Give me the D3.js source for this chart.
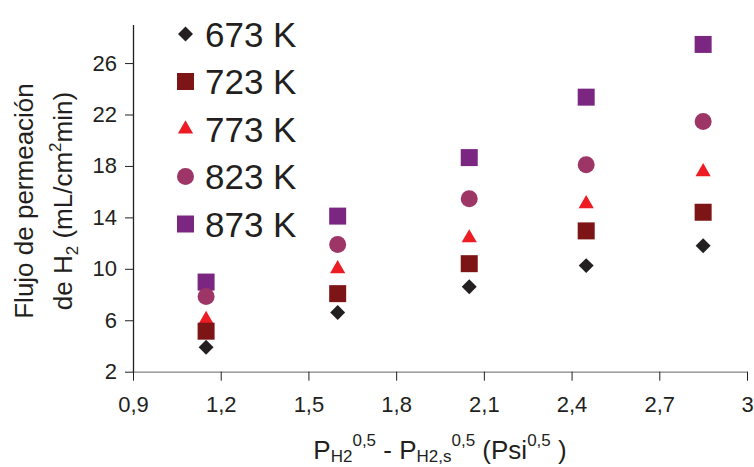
<!DOCTYPE html>
<html>
<head>
<meta charset="utf-8">
<script src="https://cdn.jsdelivr.net/npm/d3@7"></script>
<style>
  body { margin: 0; background: #fff; }
  text { font-family: "Liberation Sans", Arial, sans-serif; fill: #231f20; }
</style>
</head>
<body>
<svg class="scatter_svg" width="754" height="467"></svg>
<script>
// values
const xValues = [1.15, 1.6, 2.05, 2.45, 2.85]
const seriesNames = ["673 K", "723 K", "773 K", "823 K", "873 K"]
const k673 = [3.9, 6.6, 8.6, 10.25, 11.8]
const k723 = [5.15, 8.07, 10.4, 12.95, 14.4]
const k773 = [6.05, 10.0, 12.4, 15.05, 17.55]
const k823 = [7.85, 11.9, 15.45, 18.1, 21.45]
const k873 = [8.97, 14.1, 18.65, 23.35, 27.45]
const xTicks = [0.9, 1.2, 1.5, 1.8, 2.1, 2.4, 2.7, 3.0]
const yTicks = [2, 6, 10, 14, 18, 22, 26]

const seriesValues = [k673, k723, k773, k823, k873]
const colors = ["#231f20", "#7d1416", "#ed1c24", "#9d3567", "#7b2781"]

const svg = d3.select(".scatter_svg")

const x = d3.scaleLinear().domain([0.9, 3.0]).range([133, 747])
const y = d3.scaleLinear().domain([2, 29]).range([371.7, 24.5])

// symbols: diamond is a square turned 45 degrees
const shapes = [
    {type: d3.symbolSquare, size: 112, rotate: 45},
    {type: d3.symbolSquare, size: 289, rotate: 0},
    {type: d3.symbolTriangle, size: 100, rotate: 0},
    {type: d3.symbolCircle, size: 227, rotate: 0},
    {type: d3.symbolSquare, size: 289, rotate: 0}
]

// x axis
const xAxisCall = d3.axisBottom(x)
    .tickValues(xTicks)
    .tickSize(9)
    .tickSizeOuter(0)
    .tickPadding(16)
    .tickFormat(d => d === 3 ? "3" : d3.format(".1f")(d).replace(".", ","))

const xg = svg.append("g")
    .attr("transform", `translate(0, ${y(2)})`)
    .call(xAxisCall)
xg.select(".domain").attr("stroke", "#858585").attr("stroke-width", 1.3)
xg.selectAll(".tick line").attr("stroke", "#231f20")
xg.selectAll("text")
    .attr("font-size", "22px")
    .style("font-family", "'Liberation Sans', Arial, sans-serif")
    .attr("fill", "#231f20")

// y axis
const yAxisCall = d3.axisLeft(y)
    .tickValues(yTicks)
    .tickSize(8)
    .tickSizeOuter(0)
    .tickPadding(8)

const yg = svg.append("g")
    .attr("transform", `translate(${x(0.9)}, 0)`)
    .call(yAxisCall)
yg.select(".domain").attr("stroke", "#231f20").attr("stroke-width", 1.3)
yg.selectAll(".tick line").attr("stroke", "#231f20")
yg.selectAll("text")
    .attr("font-size", "22px")
    .style("font-family", "'Liberation Sans', Arial, sans-serif")
    .attr("fill", "#231f20")

// points, drawn last series first so the 673 K diamonds sit on top
for (let s = seriesValues.length - 1; s >= 0; s--) {
    const shape = shapes[s]
    svg.append("g")
        .selectAll("path")
        .data(seriesValues[s].map((v, i) => ({x: xValues[i], y: v})))
        .enter()
        .append("path")
        .attr("d", d3.symbol().type(shape.type).size(shape.size))
        .attr("transform", d => `translate(${x(d.x)}, ${y(d.y)}) rotate(${shape.rotate})`)
        .attr("fill", colors[s])
}

// legend
const legend = svg.append("g")
seriesNames.forEach((name, i) => {
    const cy = 34 + i * 47.5
    legend.append("path")
        .attr("d", d3.symbol().type(shapes[i].type).size(shapes[i].size))
        .attr("transform", `translate(185.5, ${cy}) rotate(${shapes[i].rotate})`)
        .attr("fill", colors[i])
    legend.append("text")
        .attr("x", 205)
        .attr("y", cy + 12.5)
        .attr("font-size", "35px")
        .text(name)
})

// y label, two lines
const yLabel = svg.append("text")
    .attr("transform", "translate(33, 201) rotate(-90)")
    .attr("text-anchor", "middle")
    .attr("font-size", "26px")
    .text("Flujo de permeación")

const yLabel2 = svg.append("text")
    .attr("transform", "translate(72, 201) rotate(-90)")
    .attr("text-anchor", "middle")
    .attr("font-size", "26px")
yLabel2.append("tspan").text("de H")
yLabel2.append("tspan").attr("font-size", "17px").attr("dy", 6).text("2")
yLabel2.append("tspan").attr("dy", -6).text(" (mL/cm")
yLabel2.append("tspan").attr("font-size", "17px").attr("dy", -11).text("2")
yLabel2.append("tspan").attr("dy", 11).text("min)")

// x label
const xLabel = svg.append("text")
    .attr("x", 440)
    .attr("y", 459)
    .attr("text-anchor", "middle")
    .attr("font-size", "26px")
xLabel.append("tspan").text("P")
xLabel.append("tspan").attr("font-size", "17px").attr("dy", 3).text("H2")
xLabel.append("tspan").attr("font-size", "17px").attr("dy", -16).text("0,5")
xLabel.append("tspan").attr("dy", 13).text(" - P")
xLabel.append("tspan").attr("font-size", "17px").attr("dy", 3).text("H2,s")
xLabel.append("tspan").attr("font-size", "17px").attr("dy", -16).text("0,5")
xLabel.append("tspan").attr("dy", 13).text(" (Psi")
xLabel.append("tspan").attr("font-size", "17px").attr("dy", -13).text("0,5")
xLabel.append("tspan").attr("dy", 13).text(" )")
</script>
</body>
</html>
